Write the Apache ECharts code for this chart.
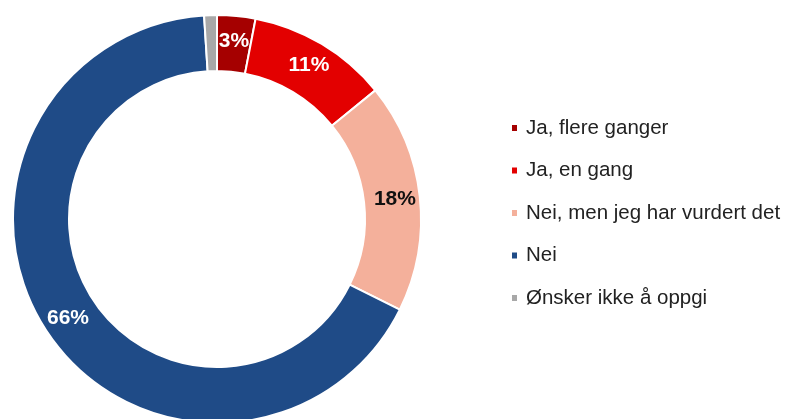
<!DOCTYPE html>
<html>
<head>
<meta charset="utf-8">
<script src="https://cdn.jsdelivr.net/npm/echarts@6/dist/echarts.min.js"></script>
<style>
  html, body { margin: 0; padding: 0; background: #fff; }
  #pie { width: 789px; height: 419px; }
</style>
</head>
<body>
<div id="pie"></div>
<script>
// svar-kategorier og andeler (%)
var categories = ['Ja, flere ganger', 'Ja, en gang', 'Nei, men jeg har vurdert det', 'Nei', 'Ønsker ikke å oppgi'];
var values = [3, 11, 18, 66, 1];
var colors = ['#a50000', '#e30000', '#f4b09b', '#1f4b87', '#a8a8a8'];
var labelColors = ['#fff', '#fff', '#111', '#fff', '#fff'];
var showLabel = [true, true, true, true, false];

var myChart = echarts.init(document.getElementById('pie'));

var pieData = categories.map(function (name, i) {
    return {
        name: name,
        value: values[i],
        itemStyle: { color: colors[i] },
        label: { show: showLabel[i], color: labelColors[i] }
    };
});

var option = {
    animation: false,
    legend: {
        orient: 'vertical',
        left: 512,
        top: 116,
        padding: 0,
        icon: 'rect',
        itemWidth: 5,
        itemHeight: 6,
        itemGap: 18.5,
        itemStyle: { borderWidth: 0 },
        textStyle: {
            fontFamily: 'Liberation Sans, Arial, sans-serif',
            fontSize: 20.5,
            lineHeight: 24,
            color: '#222',
            padding: [0, 0, 0, 4]
        },
        data: categories
    },
    series: [{
        type: 'pie',
        center: [217, 219],
        radius: [148, 204],
        startAngle: 90,
        clockwise: true,
        avoidLabelOverlap: false,
        itemStyle: {
            borderColor: '#fff',
            borderWidth: 2
        },
        label: {
            position: 'inside',
            formatter: '{c}%',
            fontFamily: 'Liberation Sans, Arial, sans-serif',
            fontSize: 21,
            fontWeight: 'bold'
        },
        labelLine: { show: false },
        emphasis: { disabled: true },
        data: pieData
    }]
};
myChart.setOption(option);
</script>
</body>
</html>
